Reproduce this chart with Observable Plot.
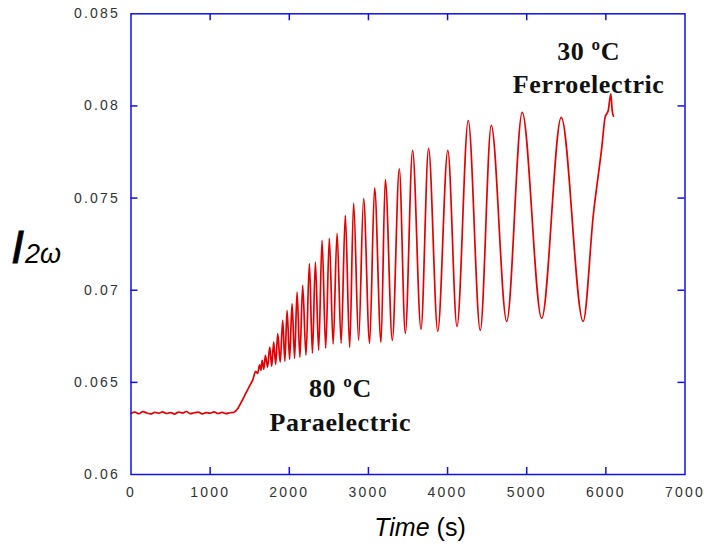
<!DOCTYPE html>
<html>
<head>
<meta charset="utf-8">
<script src="https://cdn.jsdelivr.net/npm/d3@7"></script>
<script src="https://cdn.jsdelivr.net/npm/@observablehq/plot@0.6"></script>
<style>
  html, body { margin: 0; padding: 0; background: #fff; }
  #chart svg [aria-label="x-axis tick label"] text,
  #chart svg [aria-label="y-axis tick label"] text { letter-spacing: 2.2px; }
</style>
</head>
<body>
<div id="chart"></div>
<script>
// ---- data ----
const baselineTime = [0, 50, 100, 150, 200, 250, 300, 350, 400, 450, 500, 550, 600, 650, 700, 750, 800, 850, 900, 950, 1000, 1050, 1100, 1150, 1200, 1250];
const baselineSignal = [0.06332, 0.06338, 0.06330, 0.06341, 0.06334, 0.06329, 0.06337, 0.06333, 0.06340, 0.06331, 0.06336, 0.06328, 0.06339, 0.06334, 0.06342, 0.06330, 0.06335, 0.06338, 0.06329, 0.06336, 0.06333, 0.06340, 0.06331, 0.06337, 0.06330, 0.06335];

const riseTime = [1300, 1350, 1400, 1450, 1500, 1540];
const riseSignal = [0.06338, 0.06358, 0.06398, 0.06440, 0.06482, 0.06515];

const peakTime = [1575, 1625, 1657, 1698, 1753, 1803, 1854, 1917, 1972, 2035, 2098, 2169, 2254, 2330, 2414, 2506, 2604, 2708, 2813, 2939, 3078, 3213, 3390, 3558, 3760, 4003, 4261, 4552, 4943, 5436];
const peakSignal = [0.06560, 0.06595, 0.06620, 0.06647, 0.06692, 0.06719, 0.06765, 0.06837, 0.06891, 0.06927, 0.06990, 0.07027, 0.07144, 0.07153, 0.07271, 0.07281, 0.07309, 0.07406, 0.07473, 0.07497, 0.07556, 0.07600, 0.07659, 0.07759, 0.07770, 0.07759, 0.07921, 0.07894, 0.07965, 0.07938];

const troughTime = [1600, 1641, 1678, 1725, 1778, 1828, 1885, 1944, 2004, 2067, 2134, 2211, 2292, 2371, 2460, 2554, 2655, 2763, 2876, 3015, 3159, 3302, 3466, 3664, 3876, 4119, 4413, 4747, 5189, 5713];
const troughSignal = [0.06548, 0.06565, 0.06571, 0.06582, 0.06587, 0.06598, 0.06609, 0.06614, 0.06625, 0.06631, 0.06636, 0.06647, 0.06658, 0.06674, 0.06685, 0.06707, 0.06712, 0.06690, 0.06728, 0.06712, 0.06717, 0.06728, 0.06766, 0.06788, 0.06777, 0.06804, 0.06782, 0.06831, 0.06848, 0.06831];

const endTime = [5843, 5949, 5991, 6030, 6063, 6080, 6096];
const endSignal = [0.07415, 0.07777, 0.07939, 0.07975, 0.08066, 0.07975, 0.07945];

const xTicks = [0, 1000, 2000, 3000, 4000, 5000, 6000, 7000];
const xTickLabels = ["0", "1000", "2000", "3000", "4000", "5000", "6000", "7000"];
const yTicks = [0.06, 0.065, 0.07, 0.075, 0.08, 0.085];
const yTickLabels = ["0.06", "0.065", "0.07", "0.075", "0.08", "0.085"];

const annoLabels = ["30 ºC", "Ferroelectric", "80 ºC", "Paraelectric"];
const annoTime = [5783, 5783, 2645, 2645];
const annoSignal = [0.08294, 0.08114, 0.06466, 0.06281];

// ---- build table ----
const pts = [];
const add = (ts, vs) => ts.forEach((t, i) => pts.push({t, v: vs[i]}));
add(baselineTime, baselineSignal);
add(riseTime, riseSignal);
add(peakTime, peakSignal);
add(troughTime, troughSignal);
add(endTime, endSignal);
pts.sort((a, b) => a.t - b.t);
const annos = annoLabels.map((label, i) => ({label, t: annoTime[i], v: annoSignal[i]}));

const W = 704, H = 547;
const mL = 130.5, mR = 19.5, mT = 13.3, mB = 73;
const plotW = W - mL - mR, plotH = H - mT - mB;
const blue = "#1010f0";
const tickLen = 7;
const innerX = xTicks.slice(1, -1);
const innerY = yTicks.slice(1, -1);

const chart = Plot.plot({
  width: W, height: H,
  marginLeft: mL, marginRight: mR, marginTop: mT, marginBottom: mB,
  style: {fontFamily: "'Liberation Sans', Arial, sans-serif", background: "white", overflow: "visible"},
  x: {domain: [0, 7000]},
  y: {domain: [0.06, 0.085]},
  marks: [
    Plot.line(pts, {x: "t", y: "v", stroke: "#e60000", strokeWidth: 1.7, curve: "monotone-x"}),
    Plot.frame({stroke: blue, strokeWidth: 1.5}),
    Plot.tickX(innerX, {x: d => d, stroke: blue, strokeWidth: 1.5, insetTop: plotH - tickLen}),
    Plot.tickX(innerX, {x: d => d, stroke: blue, strokeWidth: 1.5, insetBottom: plotH - tickLen}),
    Plot.tickY(innerY, {y: d => d, stroke: blue, strokeWidth: 1.5, insetRight: plotW - tickLen}),
    Plot.tickY(innerY, {y: d => d, stroke: blue, strokeWidth: 1.5, insetLeft: plotW - tickLen}),
    Plot.axisX({ticks: xTicks, tickFormat: d => xTickLabels[xTicks.indexOf(d)], tickSize: 0, tickPadding: 13, fontSize: 14, fill: "#333", label: null}),
    Plot.axisY({ticks: yTicks, tickFormat: d => yTickLabels[yTicks.indexOf(d)], tickSize: 0, tickPadding: 11, fontSize: 14, fill: "#333", label: null}),
    Plot.text(annos, {x: "t", y: "v", text: "label", fontFamily: "'Liberation Serif', 'Times New Roman', serif", fontWeight: "bold", fontSize: 26, fill: "#111", textAnchor: "middle"})
  ]
});

const svg = d3.select(chart);
svg.selectAll('text').filter(function() { return this.textContent && /ºC|electric/.test(this.textContent); }).style("letter-spacing", "0.6px");

// y-axis title: I with subscript 2ω
const yl = svg.append("text")
  .attr("x", 11).attr("y", 263)
  .attr("text-anchor", "start")
  .attr("font-family", "'Liberation Sans', Arial, sans-serif")
  .attr("font-style", "italic")
  .attr("fill", "#000");
yl.append("tspan").attr("font-size", 47).attr("stroke", "#000").attr("stroke-width", 0.8).text("I");
yl.append("tspan").attr("font-size", 27).attr("dx", 1).text("2ω");

// x-axis title
const xl = svg.append("text")
  .attr("x", 420).attr("y", 536)
  .attr("text-anchor", "middle")
  .attr("font-family", "'Liberation Sans', Arial, sans-serif")
  .attr("font-size", 25)
  .attr("fill", "#000");
xl.append("tspan").attr("font-style", "italic").text("Time");
xl.append("tspan").text(" (s)");

document.getElementById("chart").appendChild(chart);
</script>
</body>
</html>
